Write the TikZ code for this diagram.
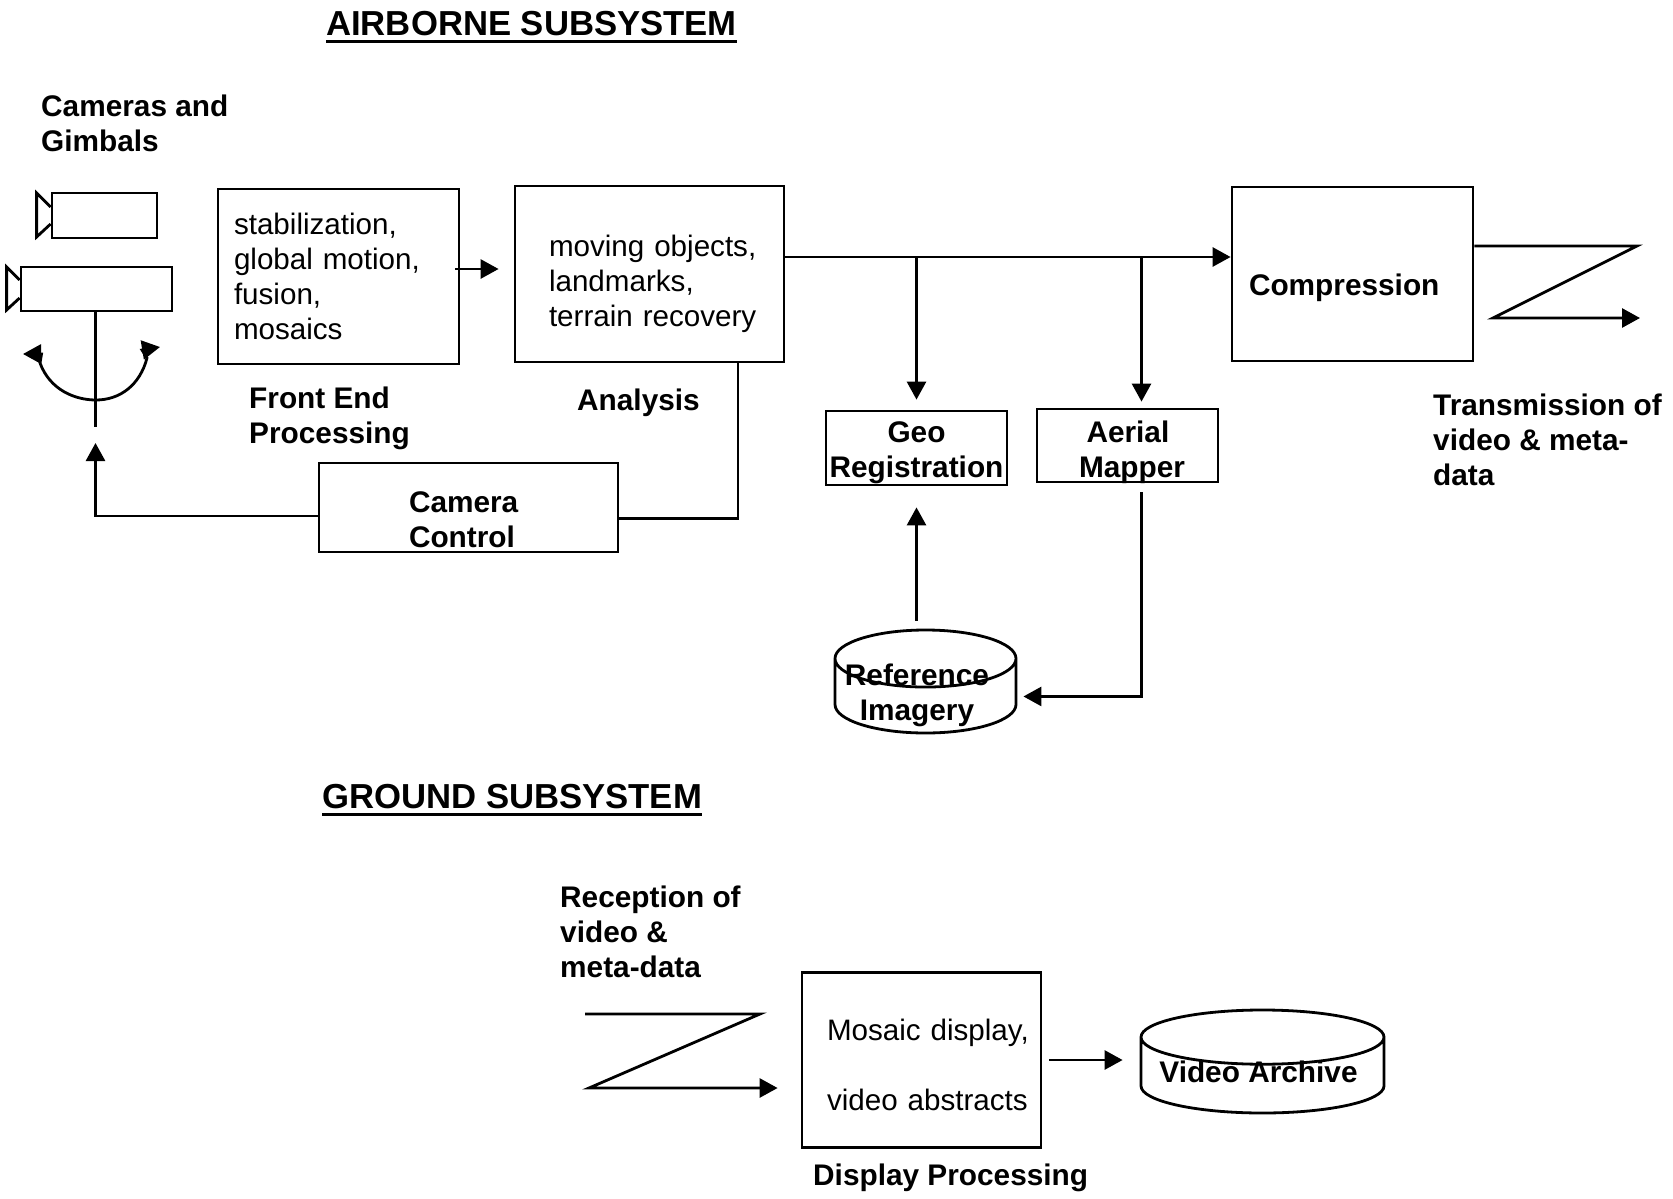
\documentclass[tikz,border=0pt]{standalone}
\usepackage{fontspec}
\usetikzlibrary{arrows.meta,shapes.geometric}
\setmainfont{Liberation Sans}
\newcommand{\titleline}[1]{\setbox0=\hbox{#1}\rlap{\rule[-8pt]{\wd0}{3.5pt}}\box0}
\newcommand{\drumlines}[1]{\raisebox{-6pt}[0pt][0pt]{\begin{tabular}{@{}c@{}}#1\end{tabular}}}
\tikzset{
  bodyfont/.style={font=\fontsize{29.6}{35}\selectfont},
  boldfont/.style={font=\fontsize{29.8}{35}\selectfont\bfseries},
  boxnode/.style={draw,line width=2.8pt,align=left,inner ysep=-12pt},
  drumnode/.style={draw,line width=2.8pt,shape=cylinder,shape border rotate=90,
    anchor=shape center,inner sep=0pt,align=center,boldfont},
  labeltext/.style={boldfont,align=left,anchor=west,inner sep=0pt},
  titletext/.style={font=\fontsize{34.7}{40}\selectfont\bfseries,anchor=west,inner sep=0pt},
  wire/.style={line width=2.8pt},
  flow/.style={wire,-{Triangle[length=18pt,width=19pt]}}
}
\begin{document}
\begin{tikzpicture}[x=1pt,y=-1pt]
    \useasboundingbox (0,0) rectangle (1673,1199);

    % airborne side
    \node[titletext] (airtitle) at (326,27) {\titleline{AIRBORNE SUBSYSTEM}};
    \node[labeltext] (camlabel) at (41,123) {Cameras and\\Gimbals};

    \node[boxnode,minimum width=105pt,minimum height=45pt] (cam1) at (104.5,215.5) {};
    \node[boxnode,minimum width=151pt,minimum height=44pt] (cam2) at (96.5,289) {};
    \draw[wire] ([yshift=8.5pt]cam1.west) -- ++(-14,-14) -- ++(0,44) -- ([yshift=-8.5pt]cam1.west);
    \draw[wire] ([yshift=9pt]cam2.west) -- ++(-13,-13) -- ++(0,43) -- ([yshift=-9pt]cam2.west);
    \coordinate (mastfoot) at (95.5,427);
    \draw[wire] (mastfoot |- cam2.south) -- (mastfoot);
    \coordinate (swingl) at (23,354);
    \coordinate (swingr) at (160,347);
    \draw[wire,{Triangle[length=18pt,width=19pt]}-{Triangle[length=18pt,width=19pt]}] (swingl) -- (41.5,354) -- (40,363)
        .. controls (50,390) and (75,400) .. (96,400)
        .. controls (120,400) and (140,385) .. (147,358) -- (142,350) -- (swingr);

    \node[boxnode,bodyfont,text width=209pt,inner xsep=16pt,minimum height=175pt] (frontend) at (338.5,276.5)
        {stabilization,\\global motion,\\fusion,\\mosaics};
    \node[labeltext] (frontlabel) at (249,418.5) {Front End\\Processing};

    \node[boxnode,bodyfont,text width=201pt,inner xsep=34pt,minimum height=176pt] (analysis) at (649.5,274)
        {\rule{0pt}{42pt}\mbox{moving objects,}\\landmarks,\\\mbox{terrain recovery}};
    \node[labeltext] (analysislabel) at (577,403) {Analysis};

    \node[boxnode,boldfont,text width=119pt,inner xsep=90pt,minimum height=89pt] (camctl) at (468.5,507.5)
        {\rule{0pt}{45pt}Camera\\Control};

    \node[boxnode,boldfont,text width=207pt,inner xsep=17pt,minimum height=174pt] (compress) at (1352.5,274)
        {\rule{0pt}{49pt}Compression};
    \node[labeltext] (txlabel) at (1433,439.5) {Transmission of\\video \& meta-\\data};

    \node[boxnode,boldfont,align=center,text width=181pt,inner xsep=0pt,minimum height=74pt] (geo) at (916.5,448)
        {\rule{0pt}{29.5pt}Geo\\Registration};
    \node[boxnode,boldfont,text width=97pt,inner xsep=42pt,minimum height=73pt] (mapper) at (1127.5,445.5)
        {\rule{0pt}{35pt}\hspace*{7.5pt}Aerial\\Mapper};
    \node[drumnode,aspect=0.354,minimum width=181pt,minimum height=103pt] (refimg) at (925.5,681.5)
        {\drumlines{Reference\hspace*{17pt}\\Imagery\hspace*{17pt}}};

    \coordinate (frontgate) at (459,269);
    \coordinate (joingeo) at (916.5,257);
    \coordinate (joinmap) at (1141.5,257);
    \coordinate (zout2) at (1637,246);
    \coordinate (zout3) at (1493,318);
    \coordinate (zout4) at (1640,318);

    \draw[flow,shorten <=-4pt,shorten >=15pt] (frontgate) -- (frontgate -| analysis.west);
    \draw[flow] ([yshift=17pt]analysis.east) -- ([yshift=17pt]compress.west);
    \draw[flow,shorten >=10pt] (joingeo) -- (geo.north);
    \draw[flow,shorten >=6pt] (joinmap) -- (joinmap |- mapper.north);
    \draw[wire] ([xshift=88.5pt]analysis.south) |- ([yshift=-11pt]camctl.east);
    \draw[flow,shorten >=16pt] ([yshift=-8.5pt]camctl.west) -| (mastfoot);
    \draw[flow,shorten <=8pt,shorten >=21pt] (geo.south |- refimg.north) -- (geo.south);
    \draw[flow,shorten <=9pt,shorten >=6pt] ([xshift=14pt]mapper.south) |- (refimg.east);
    \draw[flow] ([yshift=28pt]compress.east) -- (zout2) -- (zout3) -- (zout4);

    % ground side
    \node[titletext] (gndtitle) at (322,800) {\titleline{GROUND SUBSYSTEM}};
    \node[labeltext] (rxlabel) at (560,931.5) {Reception of\\video \&\\meta-data};

    \node[boxnode,bodyfont,text width=189pt,inner xsep=25pt,minimum height=175pt] (display) at (921.5,1060)
        {\rule{0pt}{32pt}\mbox{Mosaic display,}\\[35pt]\mbox{video abstracts}};
    \node[labeltext] (displabel) at (813,1178) {Display Processing};
    \node[drumnode,aspect=0.263,minimum width=243pt,minimum height=103pt] (archive) at (1262.5,1061.5)
        {\drumlines{Video Archive\hspace*{8pt}}};

    \coordinate (zin1) at (585,1014);
    \coordinate (zin2) at (760,1014);
    \coordinate (zin3) at (589,1088);

    \draw[flow,shorten >=23pt] (zin1) -- (zin2) -- (zin3) -- (zin3 -| display.west);
    \draw[flow,shorten <=7pt,shorten >=17pt] (display.east) -- (display.east -| archive.west);
\end{tikzpicture}
\end{document}
